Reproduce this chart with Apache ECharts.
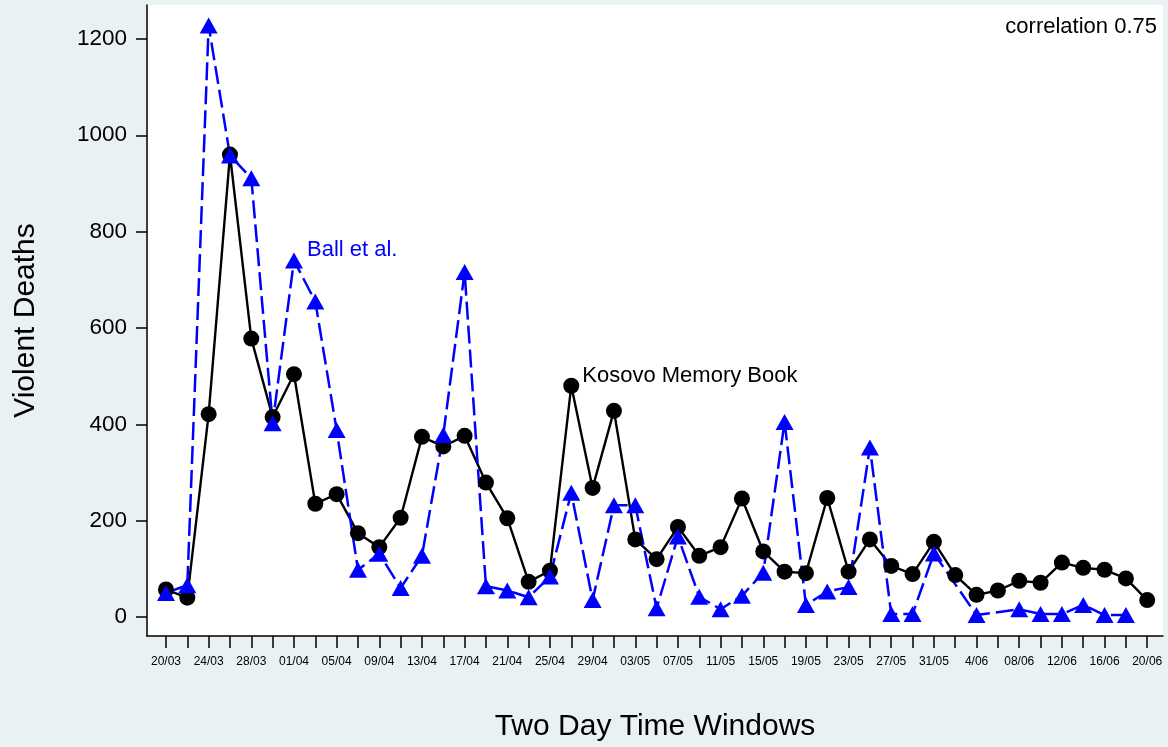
<!DOCTYPE html>
<html>
<head>
<meta charset="utf-8">
<script src="https://cdn.jsdelivr.net/npm/echarts@6/dist/echarts.min.js"></script>
<style>
html,body{margin:0;padding:0;background:#e9f1f3;}
#chart{width:1168px;height:747px;}
</style>
</head>
<body>
<div id="chart"></div>
<script>
// Two-day windows, 20/03 .. 20/06 (47 windows)
const windows = ["20/03","22/03","24/03","26/03","28/03","30/03","01/04","03/04","05/04","07/04","09/04","11/04","13/04","15/04","17/04","19/04","21/04","23/04","25/04","27/04","29/04","01/05","03/05","05/05","07/05","09/05","11/05","13/05","15/05","17/05","19/05","21/05","23/05","25/05","27/05","29/05","31/05","2/06","4/06","06/06","08/06","10/06","12/06","14/06","16/06","18/06","20/06"];
// Tick labels shown (every other window)
const tickLabels = ["20/03","24/03","28/03","01/04","05/04","09/04","13/04","17/04","21/04","25/04","29/04","03/05","07/05","11/05","15/05","19/05","23/05","27/05","31/05","4/06","08/06","12/06","16/06","20/06"];
const yTicks = [0,200,400,600,800,1000,1200];

// Kosovo Memory Book
const kmb = [57,40,421,960,578,415,504,235,255,174,145,206,374,354,376,279,205,73,96,480,268,428,161,120,187,127,145,246,136,94,91,247,94,161,106,89,156,87,46,55,75,71,113,102,98,80,35];
// Ball et al.
const ball = [50,66,1228,958,911,402,740,655,388,98,131,60,127,378,716,64,55,41,84,258,35,232,232,18,167,42,16,44,92,405,25,53,62,352,6,6,132,null,4,null,16,6,6,25,4,4,null];

const labelBallIdx = 6;
const labelKmbIdx = 19;

const FONT = "'Liberation Sans', Arial, sans-serif";

const kmbData = kmb.map((v, i) => {
  const d = { value: [i, v] };
  if (i === labelKmbIdx) {
    d.label = { show: true, position: [19, -2], align: 'left', verticalAlign: 'middle',
      formatter: 'Kosovo Memory Book', color: '#000', fontSize: 22, fontFamily: FONT };
  }
  return d;
});
const ballData = ball.map((v, i) => {
  const d = { value: [i, v] };
  if (i === labelBallIdx) {
    d.label = { show: true, position: [22, -3], align: 'left', verticalAlign: 'middle',
      formatter: 'Ball et al.', color: '#0000ff', fontSize: 22, fontFamily: FONT };
  }
  return d;
});

const tickIdx = windows.map((w, i) => i);
const labelIdx = tickLabels.map((t, k) => k * 2);

const chart = echarts.init(document.getElementById('chart'));
chart.setOption({
  backgroundColor: '#e9f1f3',
  animation: false,
  grid: { left: 147, right: 5, top: 5, bottom: 111, show: true, backgroundColor: '#ffffff', borderWidth: 0,
    containLabel: false, outerBoundsMode: 'none' },
  xAxis: {
    type: 'value',
    min: -0.89, max: 46.74,
    name: 'Two Day Time Windows',
    nameLocation: 'middle',
    nameGap: 76,
    nameTextStyle: { fontSize: 30, fontFamily: FONT, color: '#000' },
    axisLine: { show: true, onZero: false, lineStyle: { color: '#000', width: 1.5 } },
    axisTick: { show: true, customValues: tickIdx, length: 12, lineStyle: { color: '#000', width: 1.5 } },
    axisLabel: { customValues: labelIdx, margin: 20, fontSize: 12, fontFamily: FONT, color: '#000',
      formatter: v => tickLabels[Math.round(v) / 2] },
    splitLine: { show: false }
  },
  yAxis: {
    type: 'value',
    min: -39.5, max: 1270.5,
    name: 'Violent Deaths',
    nameLocation: 'middle',
    nameGap: 106,
    nameRotate: 90,
    nameTextStyle: { fontSize: 30, fontFamily: FONT, color: '#000' },
    axisLine: { show: true, onZero: false, lineStyle: { color: '#000', width: 1.5 } },
    axisTick: { show: true, customValues: yTicks, length: 11, lineStyle: { color: '#000', width: 1.5 } },
    axisLabel: { customValues: yTicks, margin: 20, fontSize: 22.5, fontFamily: FONT, color: '#000',
      formatter: v => String(Math.round(v)) },
    splitLine: { show: false }
  },
  graphic: [{
    type: 'text', right: 11, top: 16,
    style: { text: 'correlation 0.75', fontSize: 22, fontFamily: FONT, fill: '#000' }
  }],
  series: [
    {
      name: 'Kosovo Memory Book', type: 'line', data: kmbData,
      symbol: 'circle', symbolSize: 16,
      itemStyle: { color: '#000' },
      lineStyle: { color: '#000', width: 2.4 },
      labelLayout: { hideOverlap: false }
    },
    {
      name: 'Ball et al.', type: 'line', data: ballData, connectNulls: true,
      symbol: 'triangle', symbolSize: [18, 16],
      itemStyle: { color: '#0000ff' },
      lineStyle: { color: '#0000ff', width: 2.5, type: [18, 6] },
      labelLayout: { hideOverlap: false }
    }
  ]
});
</script>
</body>
</html>
